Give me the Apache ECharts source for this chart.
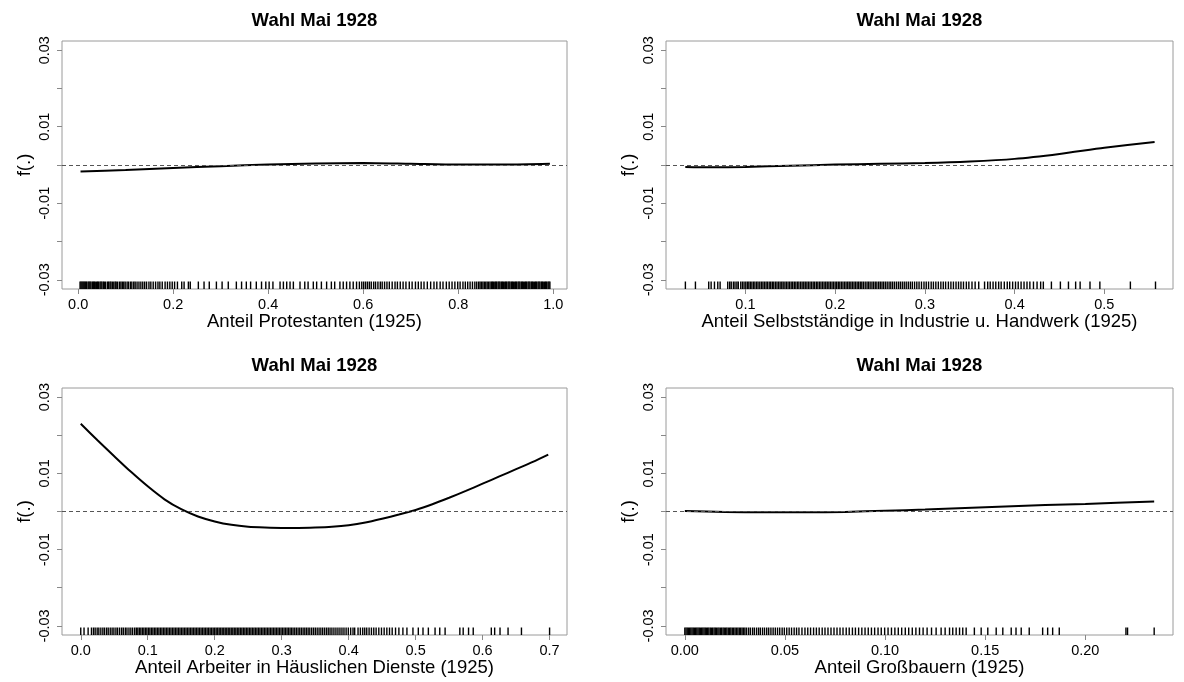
<!DOCTYPE html>
<html><head><meta charset="utf-8">
<script src="https://cdn.jsdelivr.net/npm/echarts@6/dist/echarts.min.js"></script>
<style>html,body{margin:0;padding:0;background:#fff}#c{width:1184px;height:682px}</style>
</head><body><div id="c"></div><script>
// ---------- data ----------
const panelTitle = 'Wahl Mai 1928';
const yName = 'f(.)';
const xNames = ['Anteil Protestanten (1925)', 'Anteil Selbstständige in Industrie u. Handwerk (1925)', 'Anteil Arbeiter in Häuslichen Dienste (1925)', 'Anteil Großbauern (1925)'];

const yTicks = [-0.03, -0.02, -0.01, 0, 0.01, 0.02, 0.03];
const yTickLabels = [-0.03, -0.01, 0.01, 0.03];

const xTicksProt = [0, 0.2, 0.4, 0.6, 0.8, 1.0];
const xTicksSelb = [0.1, 0.2, 0.3, 0.4, 0.5];
const xTicksHaus = [0, 0.1, 0.2, 0.3, 0.4, 0.5, 0.6, 0.7];
const xTicksGross = [0, 0.05, 0.10, 0.15, 0.20];

// fitted smooth curves
const protX = [0.005, 0.1, 0.2, 0.3, 0.4, 0.5, 0.6, 0.7, 0.8, 0.9, 0.993];
const protY = [-0.0017, -0.0013, -0.0008, -0.0003, 0.0001, 0.0004, 0.0005, 0.0003, 0.0001, 0.0001, 0.0003];

const selbX = [0.033, 0.06, 0.1, 0.15, 0.2, 0.25, 0.3, 0.35, 0.4, 0.45, 0.5, 0.556];
const selbY = [-0.0005, -0.0006, -0.0005, -0.0002, 0.0001, 0.0003, 0.0005, 0.0009, 0.0016, 0.0029, 0.0045, 0.0060];

const hausX = [0.0, 0.025, 0.05, 0.075, 0.1, 0.125, 0.15, 0.175, 0.2, 0.225, 0.25, 0.275, 0.3, 0.325, 0.35, 0.375, 0.4, 0.425, 0.45, 0.475, 0.5, 0.525, 0.55, 0.575, 0.6, 0.625, 0.65, 0.675, 0.698];
const hausY = [0.0230, 0.0187, 0.0145, 0.0104, 0.0066, 0.0032, 0.0006, -0.0013, -0.0026, -0.0035, -0.0040, -0.0042, -0.0043, -0.0043, -0.0042, -0.0040, -0.0036, -0.0029, -0.0019, -0.0008, 0.0004, 0.0019, 0.0036, 0.0054, 0.0073, 0.0092, 0.0111, 0.0130, 0.0149];

const grossX = [0.0, 0.02, 0.04, 0.06, 0.08, 0.1, 0.12, 0.14, 0.16, 0.18, 0.2, 0.2344];
const grossY = [0.0001, -0.0001, -0.0002, -0.0002, -0.0001, 0.0002, 0.0005, 0.0009, 0.0013, 0.0017, 0.0020, 0.0026];

// rug (observed x values)
const rugProt = [0.004,0.006,0.008,0.010,0.012,0.014,0.016,0.018,0.021,0.023,0.025,0.027,0.030,0.032,0.034,0.036,0.039,0.041,0.043,0.046,0.048,0.050,0.053,0.055,0.058,0.062,0.064,0.067,0.069,0.072,0.075,0.078,0.080,0.083,0.087,0.090,0.093,0.096,0.099,0.103,0.106,0.110,0.113,0.117,0.120,0.124,0.128,0.132,0.136,0.140,
0.144,0.149,0.153,0.158,0.163,0.168,0.172,0.177,0.183,0.188,0.193,0.198,0.203,
0.209,0.218,0.223,0.232,0.236,0.253,0.265,0.276,0.291,0.303,0.316,0.333,0.344,0.354,0.363,0.375,0.386,0.395,0.402,0.410,
0.425,0.432,0.439,0.446,0.453,0.467,0.477,0.484,0.495,0.502,0.512,0.523,0.533,0.540,0.551,0.558,0.565,0.572,0.579,0.586,
0.592,0.597,0.601,0.605,0.609,0.613,0.617,0.622,0.626,0.631,0.636,0.640,0.645,0.650,0.655,0.661,0.667,0.672,0.678,0.684,0.690,0.697,0.703,0.710,0.716,0.722,0.728,0.735,
0.742,0.749,0.755,0.762,0.768,0.775,0.781,0.787,0.793,0.799,0.804,0.810,0.815,0.820,0.825,0.830,0.835,0.839,
0.843,0.846,0.849,0.852,0.855,0.858,0.861,0.864,0.867,0.870,0.872,0.874,0.877,0.879,0.881,0.884,0.886,0.888,0.891,0.893,0.895,0.898,0.900,0.902,0.905,0.907,0.909,0.912,0.914,0.916,0.919,0.921,0.923,0.926,0.928,0.930,0.933,0.935,0.937,0.940,0.942,0.944,0.947,0.949,0.951,0.954,0.956,0.958,0.961,0.963,0.965,0.968,0.970,0.972,0.975,0.977,0.979,0.982,0.984,0.986,0.989,0.991,0.993];

const rugSelb = [0.0331,0.0443,0.0591,0.0618,0.0655,0.0692,0.0718,
0.0803,0.0825,0.0842,0.0866,0.0884,0.0905,0.0921,0.0948,0.0967,0.0985,0.1004,0.1022,0.1038,
0.1055,0.1072,0.1090,0.1106,0.1125,0.1141,0.1160,0.1178,0.1195,0.1212,0.1230,0.1246,0.1265,0.1282,0.1300,0.1316,0.1335,0.1352,0.1370,0.1387,0.1405,0.1421,0.1440,0.1457,0.1475,0.1492,0.1510,0.1527,0.1545,0.1562,0.1580,0.1596,0.1615,0.1632,0.1650,0.1667,0.1685,0.1702,0.1720,0.1737,0.1755,0.1771,0.1790,0.1807,0.1825,0.1842,0.1860,0.1877,0.1895,0.1912,0.1930,0.1947,0.1965,0.1982,0.2000,0.2017,0.2035,0.2052,0.2070,0.2087,0.2105,0.2122,0.2140,0.2157,0.2175,0.2192,0.2210,0.2227,0.2245,0.2262,0.2280,0.2297,0.2315,0.2335,0.2355,0.2372,0.2390,0.2410,0.2428,0.2447,0.2465,0.2485,0.2503,0.2522,0.2540,0.2560,0.2580,0.2601,0.2620,0.2640,0.2661,0.2683,0.2705,0.2726,0.2748,0.2770,0.2792,0.2815,0.2838,0.2860,0.2885,0.2910,0.2935,
0.2962,0.2990,0.3015,0.3041,0.3070,0.3095,0.3122,0.3150,0.3178,0.3205,0.3231,0.3262,0.3290,0.3318,0.3347,0.3375,0.3402,0.3430,0.3462,0.3490,0.3525,0.3560,0.3600,
0.3665,0.3700,0.3728,0.3760,0.3790,0.3822,0.3850,0.3885,0.3918,0.3945,0.3978,0.4010,0.4040,0.4072,0.4105,0.4138,0.4170,0.4210,0.4250,0.4290,
0.4320,0.4410,0.4510,0.4600,0.4680,0.4730,0.4840,0.4950,0.5290,0.5570];

const rugHaus = [0.0000,0.0049,0.0110,0.0160,
0.0190,0.0215,0.0245,0.0270,0.0300,0.0330,0.0355,0.0385,0.0410,0.0440,0.0468,0.0495,0.0525,0.0550,0.0580,0.0610,0.0635,0.0665,0.0690,0.0720,0.0748,0.0775,0.0805,0.0830,
0.0852,0.0875,0.0897,0.0920,0.0942,0.0965,0.0987,0.1010,0.1032,0.1055,0.1077,0.1100,0.1122,0.1145,0.1167,0.1190,0.1212,0.1235,0.1257,0.1280,0.1302,0.1325,0.1347,0.1370,0.1392,0.1415,0.1437,0.1460,0.1482,0.1505,0.1527,0.1550,0.1572,0.1595,0.1617,0.1640,0.1662,0.1685,0.1707,0.1730,0.1752,0.1775,0.1797,0.1820,0.1842,0.1865,0.1887,0.1910,0.1932,0.1955,0.1977,0.2000,0.2022,0.2045,0.2067,0.2090,0.2112,0.2135,0.2157,0.2180,0.2202,0.2225,0.2247,0.2270,0.2292,0.2315,0.2337,0.2360,0.2382,0.2405,0.2427,0.2450,0.2472,0.2495,0.2517,0.2540,0.2562,0.2585,0.2607,0.2630,0.2652,0.2675,0.2697,0.2720,0.2742,0.2765,0.2787,0.2810,0.2832,0.2855,0.2877,0.2900,0.2922,0.2945,0.2967,0.2990,0.3012,0.3035,0.3057,0.3080,0.3102,0.3125,0.3147,0.3170,0.3195,0.3220,0.3245,0.3270,0.3295,0.3320,0.3345,0.3370,0.3395,0.3420,0.3448,0.3475,0.3502,0.3530,0.3558,0.3585,0.3612,0.3640,0.3668,0.3695,0.3722,0.3750,0.3780,0.3810,0.3840,0.3870,0.3900,0.3930,0.3962,0.3995,0.4030,0.4065,0.4090,
0.4140,0.4175,0.4210,0.4240,0.4270,0.4305,0.4340,0.4375,0.4410,0.4450,0.4490,0.4530,0.4570,0.4610,0.4650,0.4700,0.4750,0.4810,0.4870,
0.4960,0.5040,0.5110,0.5190,0.5290,0.5360,0.5440,0.5660,0.5710,0.5790,0.5860,0.6130,0.6180,0.6260,0.6380,0.6580,0.7000];

const rugGross = [0.0000,0.0006,0.0012,0.0018,0.0024,0.0030,0.0036,0.0042,0.0048,0.0054,0.0060,0.0066,0.0072,0.0078,0.0084,0.0090,0.0096,0.0102,0.0108,0.0114,0.0120,0.0127,0.0133,0.0139,0.0146,0.0152,0.0158,0.0165,0.0171,0.0178,0.0184,0.0191,0.0197,0.0204,0.0210,0.0217,0.0224,0.0230,0.0237,0.0244,0.0251,0.0258,0.0265,0.0272,0.0279,0.0286,0.0293,0.0300,0.0308,
0.0318,0.0327,0.0338,0.0347,0.0358,0.0368,0.0377,0.0388,0.0398,0.0409,0.0419,0.0430,0.0441,0.0452,0.0463,0.0474,0.0486,0.0497,0.0509,0.0521,0.0533,0.0546,0.0558,0.0570,
0.0585,0.0600,0.0614,0.0628,0.0643,0.0657,0.0671,0.0686,0.0700,0.0715,0.0730,0.0745,0.0760,0.0775,0.0790,0.0806,0.0821,0.0837,0.0852,0.0868,0.0884,0.0900,0.0916,0.0932,0.0948,0.0965,0.0981,0.0998,0.1015,0.1032,0.1049,0.1066,0.1083,0.1101,0.1118,0.1136,0.1154,0.1172,0.1190,0.1210,0.1232,0.1255,0.1280,0.1300,
0.1322,0.1338,0.1355,0.1372,0.1388,0.1405,0.1446,0.1480,0.1513,0.1555,0.1588,0.1630,0.1654,0.1680,0.1720,0.1787,0.1812,0.1837,0.1870,0.2203,0.2211,0.2344];

// ---------- layout ----------
const FONT = '"Liberation Sans", Arial, Helvetica, sans-serif';
const Y_MIN = -0.0324, Y_MAX = 0.0324;
const RUG_LEN = 7.5;
const panels = [
  {grid:{left:62, top:41, width:505, height:248}, xr:[-0.034, 1.029], ticks:xTicksProt, dec:1, rug:rugProt, titleTop:11},
  {grid:{left:666, top:41, width:507, height:248}, xr:[0.0115, 0.5765], ticks:xTicksSelb, dec:1, rug:rugSelb, titleTop:11},
  {grid:{left:62, top:388, width:505, height:247}, xr:[-0.028, 0.726], ticks:xTicksHaus, dec:1, rug:rugHaus, titleTop:356},
  {grid:{left:666, top:388, width:507, height:247}, xr:[-0.0094, 0.2438], ticks:xTicksGross, dec:2, rug:rugGross, titleTop:356}
];
const curves = [[protX, protY], [selbX, selbY], [hausX, hausY], [grossX, grossY]];

function rugItem(params, api) {
  const p = api.coord([api.value(0), Y_MIN]);
  return {type:'line', shape:{x1:p[0], y1:p[1], x2:p[0], y2:p[1] - RUG_LEN},
    style:{stroke:'#000', lineWidth:1.4}};
}

const option = {animation:false, backgroundColor:'#fff', title:[], grid:[], xAxis:[], yAxis:[], series:[]};
panels.forEach((p, i) => {
  option.grid.push(Object.assign({show:true, borderColor:'#9a9a9a', borderWidth:1, backgroundColor:'transparent', containLabel:false}, p.grid));
  option.title.push({text:panelTitle, left:p.grid.left + p.grid.width/2, top:p.titleTop, textAlign:'center', padding:0,
    textStyle:{fontFamily:FONT, fontSize:18.5, fontWeight:'bold', color:'#000'}});
  option.xAxis.push({gridIndex:i, type:'value', min:p.xr[0], max:p.xr[1], position:'bottom',
    name:xNames[i], nameLocation:'middle', nameGap:23,
    nameTextStyle:{fontFamily:FONT, fontSize:18.5, color:'#000'},
    axisLine:{show:false, onZero:false}, splitLine:{show:false},
    axisTick:{show:true, customValues:p.ticks, length:5, lineStyle:{color:'#888', width:1}},
    axisLabel:{customValues:p.ticks, formatter:v => Number(v).toFixed(p.dec), fontFamily:FONT, fontSize:14.5, color:'#000', margin:8}});
  option.yAxis.push({gridIndex:i, type:'value', min:Y_MIN, max:Y_MAX, position:'left',
    name:yName, nameLocation:'middle', nameGap:28, nameRotate:90,
    nameTextStyle:{fontFamily:FONT, fontSize:18.5, color:'#000'},
    axisLine:{show:false, onZero:false}, splitLine:{show:false},
    axisTick:{show:true, customValues:yTicks, length:5, lineStyle:{color:'#888', width:1}},
    axisLabel:{customValues:yTickLabels, formatter:v => Number(v).toFixed(2), rotate:90, fontFamily:FONT, fontSize:14.5, color:'#000', margin:10}});
  const [cx, cy] = curves[i];
  option.series.push({type:'line', xAxisIndex:i, yAxisIndex:i, data:cx.map((x, k) => [x, cy[k]]),
    smooth:0.25, showSymbol:false, silent:true, lineStyle:{color:'#000', width:2},
    markLine:{silent:true, symbol:'none', label:{show:false}, lineStyle:{color:'#555', width:1, type:[4,3]}, data:[{yAxis:0}]}});
  option.series.push({type:'custom', xAxisIndex:i, yAxisIndex:i, coordinateSystem:'cartesian2d',
    data:p.rug.map(v => [v]), renderItem:rugItem, clip:false, silent:true});
});
const chart = echarts.init(document.getElementById('c'), null, {renderer:'canvas'});
chart.setOption(option);
</script></body></html>
